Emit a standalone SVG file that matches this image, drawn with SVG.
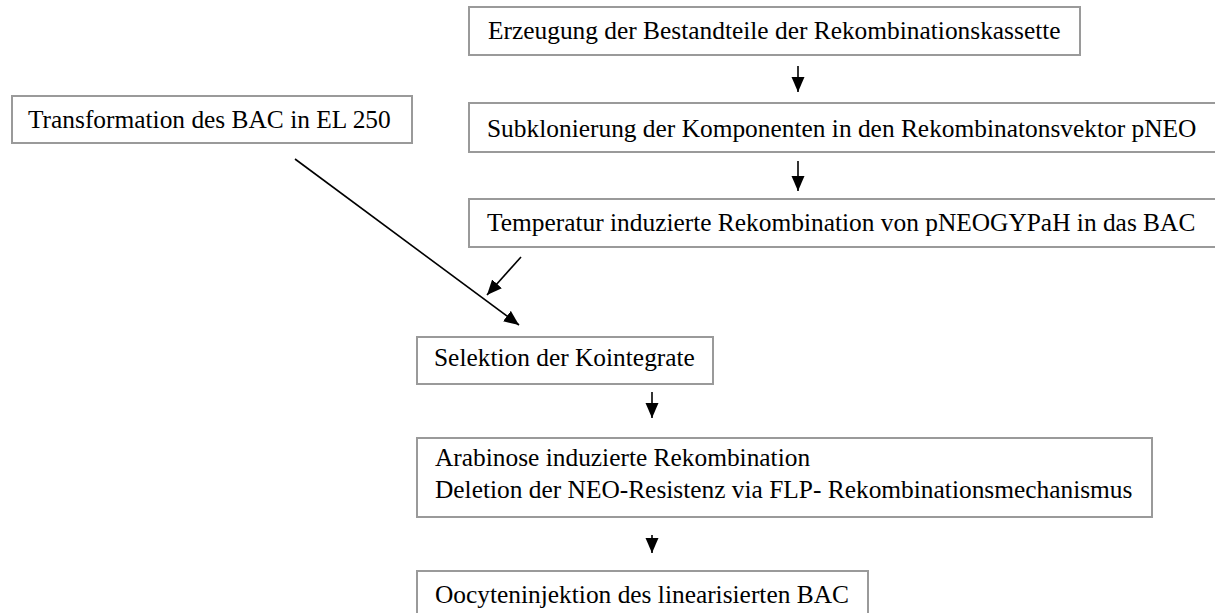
<svg xmlns="http://www.w3.org/2000/svg" width="1215" height="613" viewBox="0 0 1215 613">
<style>
.box{fill:#fff;stroke:#9a9a9a;stroke-width:2}
.t{font-family:"Liberation Serif","Times New Roman",serif;font-size:25.4px;fill:#000}
.c{stroke:#000;stroke-width:1.6;fill:none}
</style>
<defs>
<marker id="ah" markerUnits="userSpaceOnUse" markerWidth="15" markerHeight="14" refX="15" refY="7" orient="auto">
<path d="M0,0.5 L15,7 L0,13.5 Z" fill="#000"/>
</marker>
</defs>
<rect width="1215" height="613" fill="#fff"/>
<g id="n1"><rect class="box" x="469" y="7" width="611" height="48"/><text class="t" x="488" y="39">Erzeugung der Bestandteile der Rekombinationskassette</text></g>
<g id="n2"><rect class="box" x="469" y="103" width="747" height="49"/><text class="t" x="487" y="137">Subklonierung der Komponenten in den Rekombinatonsvektor pNEO</text></g>
<g id="n3"><rect class="box" x="469" y="199" width="747" height="48"/><text class="t" x="487" y="231">Temperatur induzierte Rekombination von pNEOGYPaH in das BAC</text></g>
<g id="n4"><rect class="box" x="12" y="96" width="400" height="47"/><text class="t" x="28" y="128">Transformation des BAC in EL 250</text></g>
<g id="n5"><rect class="box" x="417" y="337" width="296" height="47"/><text class="t" x="434" y="366">Selektion der Kointegrate</text></g>
<g id="n6"><rect class="box" x="417" y="438" width="735" height="79"/><text class="t" x="435" y="466">Arabinose induzierte Rekombination</text><text class="t" x="435" y="498">Deletion der NEO-Resistenz via FLP- Rekombinationsmechanismus</text></g>
<g id="n7"><rect class="box" x="417" y="571" width="451" height="60"/><text class="t" x="435" y="603">Oocyteninjektion des linearisierten BAC</text></g>
<g id="connectors">
<line class="c" x1="798" y1="66" x2="798" y2="92" marker-end="url(#ah)"/>
<line class="c" x1="798" y1="161" x2="798" y2="191" marker-end="url(#ah)"/>
<line class="c" x1="295" y1="159" x2="519" y2="325" marker-end="url(#ah)"/>
<line class="c" x1="521" y1="257" x2="487" y2="295" marker-end="url(#ah)"/>
<line class="c" x1="652" y1="392" x2="652" y2="418" marker-end="url(#ah)"/>
<line class="c" x1="652" y1="535" x2="652" y2="553" marker-end="url(#ah)"/>
</g>
</svg>
